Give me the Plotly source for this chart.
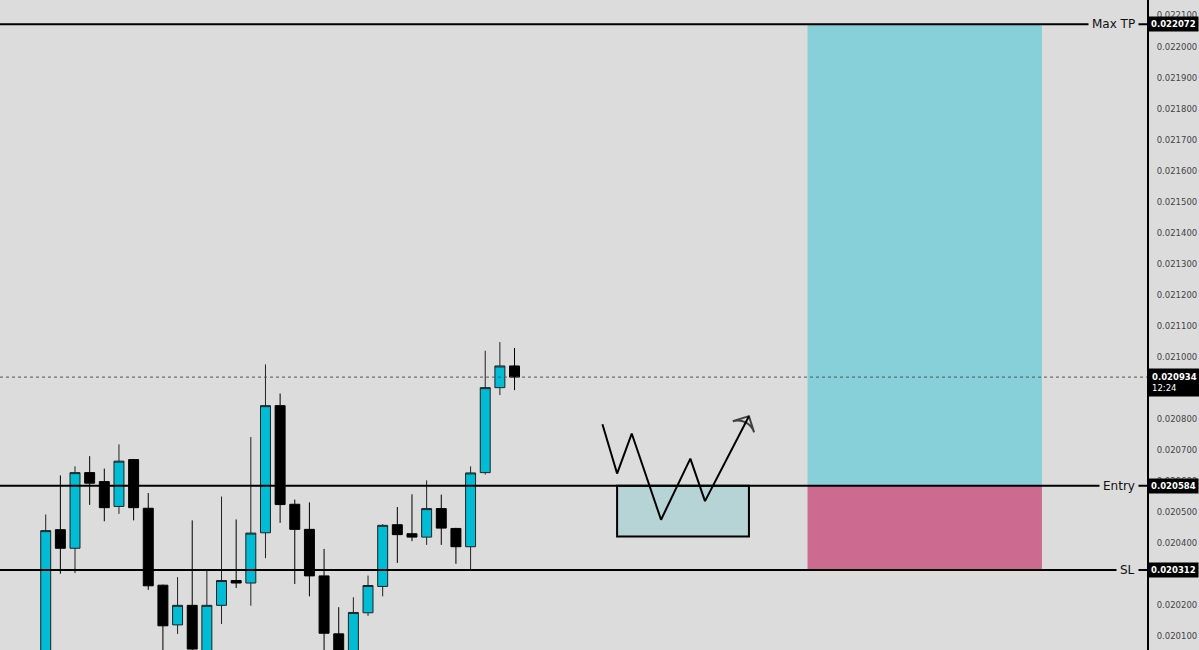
import plotly.graph_objects as go

# ---------------- data (prices in units of 1e-6) ----------------
bar_index = list(range(33))
opens  = [20020, 20442, 20382, 20626, 20597, 20517, 20668, 20511, 20263, 20135, 20198,
          20045, 20198, 20278, 20270, 20432, 20842, 20524, 20443, 20293, 20106, 20030,
          20174, 20259, 20458, 20429, 20418, 20510, 20446, 20387, 20626, 20900, 20970]
highs  = [20491, 20617, 20646, 20679, 20639, 20717, 20670, 20560, 20265, 20289, 20472,
          20310, 20549, 20475, 20741, 20975, 20881, 20539, 20530, 20380, 20192, 20224,
          20294, 20460, 20515, 20556, 20601, 20555, 20448, 20646, 21019, 21047, 21028]
lows   = [19990, 20300, 20302, 20522, 20469, 20493, 20472, 20248, 20040, 20106, 20045,
          20030, 20138, 20254, 20197, 20350, 20464, 20267, 20227, 20045, 20010, 20010,
          20164, 20227, 20335, 20405, 20393, 20393, 20332, 20314, 20620, 20876, 20892]
closes = [20439, 20382, 20626, 20592, 20513, 20663, 20513, 20261, 20132, 20198, 20057,
          20198, 20278, 20270, 20431, 20842, 20523, 20443, 20293, 20108, 20030, 20175,
          20262, 20456, 20426, 20418, 20510, 20447, 20387, 20625, 20900, 20970, 20934]

max_tp = 22072
entry = 20584
stop_loss = 20312
last_price = 20934
countdown = "12:24"

tick_values = [20100 + 100 * k for k in range(21)]

# projected path (bar index, price)
path_x = [38, 39, 40, 42, 44, 45, 48]
path_y = [20782, 20623, 20752, 20474, 20671, 20534, 20808]

zone_x = [39, 48]
zone_y = [20420, entry]

position_x = [52, 68]

S = 1e-6
P = lambda v: v * S

fig = go.Figure()

fig.add_trace(go.Candlestick(
    x=bar_index,
    open=[P(v) for v in opens], high=[P(v) for v in highs],
    low=[P(v) for v in lows], close=[P(v) for v in closes],
    increasing=dict(fillcolor="#00bcd4", line=dict(color="#222222", width=1)),
    decreasing=dict(fillcolor="#000000", line=dict(color="#000000", width=1)),
    whiskerwidth=0, hoverinfo="skip", showlegend=False,
))

# projected path with arrow head
fig.add_trace(go.Scatter(
    x=path_x, y=[P(v) for v in path_y], mode="lines+markers",
    line=dict(color="#000000", width=2),
    marker=dict(symbol="arrow-wide-open", angleref="previous",
                size=[0] * (len(path_x) - 1) + [17],
                color="#000000", line=dict(color="#000000", width=2)),
    hoverinfo="skip", showlegend=False,
))

shapes = []
# position tool rectangles
shapes.append(dict(type="rect", xref="x", yref="y", x0=position_x[0], x1=position_x[1],
                   y0=P(entry), y1=P(max_tp), fillcolor="#87d0da", line=dict(width=0), layer="below"))
shapes.append(dict(type="rect", xref="x", yref="y", x0=position_x[0], x1=position_x[1],
                   y0=P(stop_loss), y1=P(entry), fillcolor="#cc6b8f", line=dict(width=0), layer="below"))
# demand zone
shapes.append(dict(type="rect", xref="x", yref="y", x0=zone_x[0], x1=zone_x[1],
                   y0=P(zone_y[0]), y1=P(zone_y[1]), fillcolor="#b6d3d6",
                   line=dict(color="#000000", width=2), layer="below"))
# horizontal levels
for lvl in (max_tp, entry, stop_loss):
    shapes.append(dict(type="line", xref="paper", yref="y", x0=0, x1=1, y0=P(lvl), y1=P(lvl),
                       line=dict(color="#000000", width=2)))
shapes.append(dict(type="line", xref="paper", yref="y", x0=0, x1=1, y0=P(last_price), y1=P(last_price),
                   line=dict(color="#555555", width=1, dash="dot")))

annotations = []
for name, lvl in (("Max TP", max_tp), ("Entry", entry), ("SL", stop_loss)):
    annotations.append(dict(xref="paper", yref="y", x=1, y=P(lvl), xanchor="right", yanchor="middle",
                            xshift=-8, text=name, showarrow=False, bgcolor="#dcdcdc", borderpad=3,
                            font=dict(family="DejaVu Sans", size=12, color="#111111")))
    annotations.append(dict(xref="paper", yref="y", x=1, y=P(lvl), xanchor="left", yanchor="middle",
                            xshift=1, text="<b>%.6f</b>" % P(lvl), showarrow=False, bgcolor="#000000",
                            borderpad=2, font=dict(family="DejaVu Sans", size=8.5, color="#ffffff")))
annotations.append(dict(xref="paper", yref="y", x=1, y=P(last_price), xanchor="left", yanchor="top",
                        xshift=1, yshift=9, align="left",
                        text="<b>%.6f</b><br>%s" % (P(last_price), countdown), showarrow=False,
                        bgcolor="#000000", borderpad=3,
                        font=dict(family="DejaVu Sans", size=8.5, color="#ffffff")))

fig.update_layout(
    width=1199, height=650,
    margin=dict(l=0, r=52, t=0, b=0),
    paper_bgcolor="#dcdcdc", plot_bgcolor="#dcdcdc",
    shapes=shapes, annotations=annotations,
    showlegend=False,
    boxgap=0.2, boxgroupgap=0.15,
    xaxis=dict(range=[-3.12, 75.17], visible=False, rangeslider=dict(visible=False),
               showgrid=False, zeroline=False),
    yaxis=dict(range=[P(20054), P(22150)], side="right", showgrid=False, zeroline=False,
               showline=True, linecolor="#000000", linewidth=2, mirror=False,
               tickmode="array", tickvals=[P(v) for v in tick_values],
               ticktext=["%.6f" % P(v) for v in tick_values],
               ticks="outside", ticklen=6, tickcolor="rgba(0,0,0,0)",
               tickfont=dict(family="DejaVu Sans", size=8.5, color="#444444")),
)

fig.write_html(
    "out.html",
    config={"displayModeBar": False},
    post_script="document.body.style.margin='0';document.body.style.overflow='hidden';"
                "document.documentElement.style.background='#dcdcdc';",
)
